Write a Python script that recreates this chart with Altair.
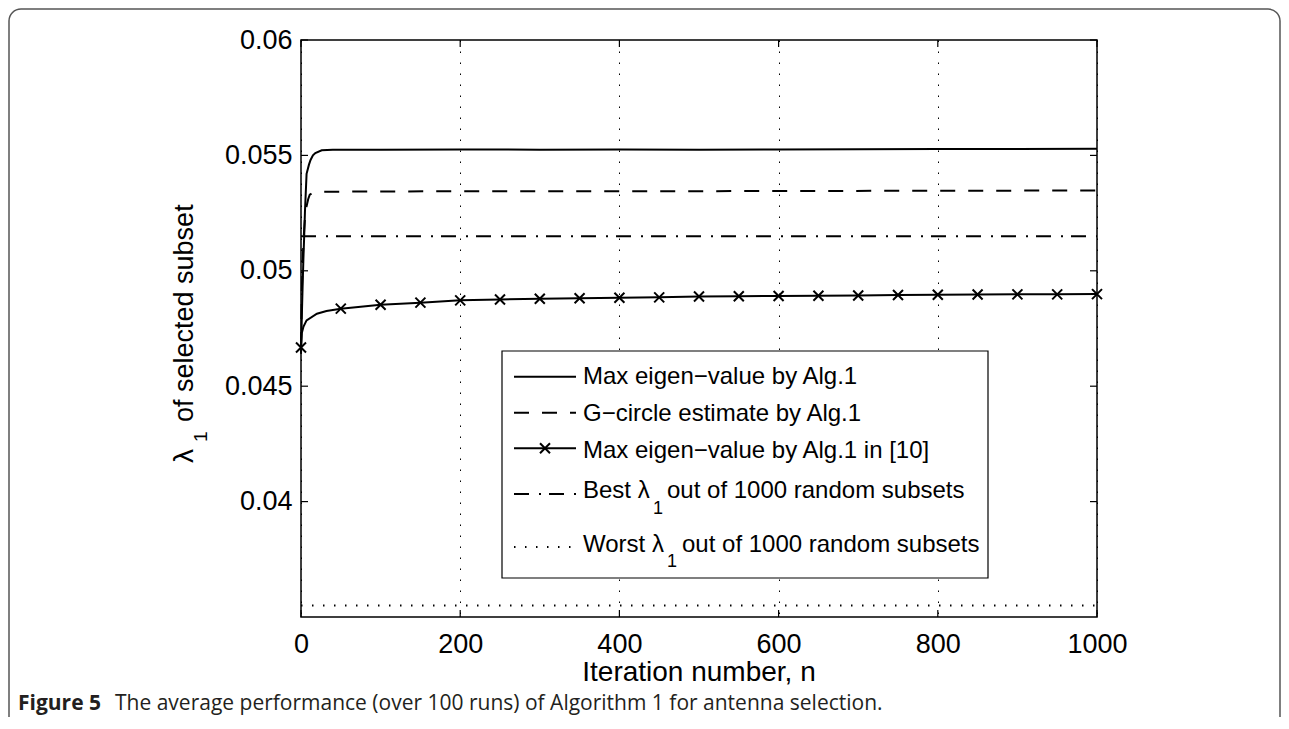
import altair as alt
import pandas as pd

# ---------------- data ----------------
# Max eigen-value by Alg.1 (solid)
n_max = [0, 1, 2, 3, 4, 5, 7, 10, 12, 15, 18, 26, 40, 100, 200, 300, 400, 500, 600, 700, 800, 900, 1000]
v_max = [0.0464, 0.0480, 0.0493, 0.0505, 0.0515, 0.0526, 0.0542, 0.0546, 0.0548, 0.0550, 0.0551, 0.05522,
         0.05524, 0.05525, 0.05526, 0.05525, 0.05526, 0.05524, 0.05526, 0.05527, 0.05528, 0.05528, 0.05529]

# G-circle estimate by Alg.1 (dashed)
n_gc = [0, 1, 2, 3, 4, 5, 7, 9, 11, 15, 23, 100, 500, 1000]
v_gc = [0.0467, 0.0490, 0.0503, 0.0512, 0.0518, 0.0523, 0.0528, 0.0531, 0.0533, 0.05338, 0.05342,
        0.05344, 0.05345, 0.05348]

# Max eigen-value by Alg.1 in [10] (solid with x markers)
n_ref = [0, 1, 3, 7, 20, 32, 50, 100, 150, 200, 250, 300, 350, 400, 450, 500, 550, 600, 650, 700,
         750, 800, 850, 900, 950, 1000]
v_ref = [0.04668, 0.0473, 0.04757, 0.04785, 0.04814, 0.04826, 0.04836, 0.04853, 0.04862, 0.04872,
         0.04876, 0.04879, 0.04881, 0.04883, 0.04885, 0.04889, 0.04890, 0.04891, 0.04892, 0.04893,
         0.04895, 0.04896, 0.04897, 0.04898, 0.04898, 0.04899]
marker_every = 50

# Best / worst lambda_1 out of 1000 random subsets (constant)
n_const = [0, 1000]
best_val = 0.0515
worst_val = 0.0355

x_ticks = [0, 200, 400, 600, 800, 1000]
y_ticks = [0.04, 0.045, 0.05, 0.055, 0.06]

legend_labels = [
    "Max eigen\u2212value by Alg.1",
    "G\u2212circle estimate by Alg.1",
    "Max eigen\u2212value by Alg.1 in [10]",
    "Best \u03bb",
    "Worst \u03bb",
]
legend_tail = "out of 1000 random subsets"
x_title = "Iteration number, n"
y_title_main = "of selected subset"
caption_bold = "Figure 5"
caption_rest = "The average performance (over 100 runs) of Algorithm 1 for antenna selection."

# ---------------- layout ----------------
W, H = 796, 577
FONT = "Liberation Sans"

xs = alt.Scale(domain=[0, 1000], nice=False)
ys = alt.Scale(domain=[0.035, 0.06], nice=False)

df_max = pd.DataFrame({"n": n_max, "v": v_max})
df_gc = pd.DataFrame({"n": n_gc, "v": v_gc})
df_ref = pd.DataFrame({"n": n_ref, "v": v_ref})
df_mark = df_ref[df_ref["n"] % marker_every == 0]
df_best = pd.DataFrame({"n": n_const, "v": [best_val] * len(n_const)})
df_worst = pd.DataFrame({"n": n_const, "v": [worst_val] * len(n_const)})
df_xt = pd.DataFrame({"n": x_ticks})
df_yt = pd.DataFrame({"v": y_ticks})

X = alt.X("n:Q", scale=xs, title=None,
          axis=alt.Axis(values=x_ticks, ticks=False, domain=False, grid=True, format="d",
                        gridDash=[1.5, 9.5], gridColor="black", gridOpacity=1, gridWidth=1,
                        labelFont=FONT, labelFontSize=27, labelColor="black",
                        labelPadding=14, labelFlush=False))
Y = alt.Y("v:Q", scale=ys, title=None,
          axis=alt.Axis(values=y_ticks, ticks=False, domain=False, grid=False, format=".3~f",
                        labelFont=FONT, labelFontSize=27, labelColor="black",
                        labelPadding=9))

base_max = alt.Chart(df_max).mark_line(color="black", strokeWidth=2).encode(x=X, y=Y)
Xn = alt.X("n:Q", scale=xs)
Yn = alt.Y("v:Q", scale=ys)
line_gc = alt.Chart(df_gc).mark_line(color="black", strokeWidth=2, strokeDash=[15, 13]).encode(x=Xn, y=Yn)
line_ref = alt.Chart(df_ref).mark_line(color="black", strokeWidth=2).encode(x=Xn, y=Yn)
XSHAPE = "M-1,-1L1,1M-1,1L1,-1"
pts_ref = alt.Chart(df_mark).mark_point(shape=XSHAPE, filled=False, color="black", strokeWidth=2,
                                        size=100, opacity=1).encode(x=Xn, y=Yn)
line_best = alt.Chart(df_best).mark_line(color="black", strokeWidth=2,
                                         strokeDash=[15, 10, 2, 8]).encode(x=Xn, y=Yn)
line_worst = alt.Chart(df_worst).mark_line(color="black", strokeWidth=2,
                                           strokeDash=[1.5, 9.5]).encode(x=Xn, y=Yn)

# inward ticks on all four sides
TL = 7
tick_b = alt.Chart(df_xt).mark_rule(color="black", strokeWidth=1.2).encode(
    x=Xn, y=alt.value(H), y2=alt.value(H - TL))
tick_t = alt.Chart(df_xt).mark_rule(color="black", strokeWidth=1.2).encode(
    x=Xn, y=alt.value(0), y2=alt.value(TL))
tick_l = alt.Chart(df_yt).mark_rule(color="black", strokeWidth=1.2).encode(
    y=alt.Y("v:Q", scale=ys), x=alt.value(0), x2=alt.value(TL))
tick_r = alt.Chart(df_yt).mark_rule(color="black", strokeWidth=1.2).encode(
    y=alt.Y("v:Q", scale=ys), x=alt.value(W), x2=alt.value(W - TL))


def txt(s, x, y, size, angle=0, align="left", weight="normal", font=FONT, color="black"):
    kw = dict(text=s, fontSize=size, font=font, align=align, baseline="alphabetic",
              fontWeight=weight, color=color)
    if angle:
        kw["angle"] = angle
    return alt.Chart(pd.DataFrame({"a": [0]})).mark_text(**kw).encode(
        x=alt.value(x), y=alt.value(y))


# axis titles
xtitle = txt(x_title, W / 2, 641, 28, align="center")
yt_lam = txt("\u03bb", -108, 423, 28, angle=270)
yt_sub = txt("1", -94, 402, 19, angle=270)
yt_main = txt(y_title_main, -108, 382, 27, angle=270)

# legend
leg_box = alt.Chart(pd.DataFrame({"a": [0]})).mark_rect(
    fill="white", stroke="black", strokeWidth=1.2).encode(
    x=alt.value(201), x2=alt.value(687), y=alt.value(311), y2=alt.value(538))
row_y = [336.7, 372.7, 408.3, 454, 507]
row_base = [344, 380.7, 418, 458, 512]
dashes = [None, [15, 13], None, [15, 10, 2, 8], [1.5, 9.5]]
leg_layers = [leg_box]
for i in range(5):
    kw = dict(color="black", strokeWidth=2)
    if dashes[i]:
        kw["strokeDash"] = dashes[i]
    leg_layers.append(alt.Chart(pd.DataFrame({"a": [0]})).mark_rule(**kw).encode(
        x=alt.value(213), x2=alt.value(275), y=alt.value(row_y[i])))
    leg_layers.append(txt(legend_labels[i], 282, row_base[i], 24))
leg_layers.append(alt.Chart(pd.DataFrame({"a": [0]})).mark_point(
    shape=XSHAPE, filled=False, color="black", strokeWidth=2, size=100, opacity=1).encode(
    x=alt.value(244), y=alt.value(row_y[2])))
leg_layers.append(txt("1", 352, 474, 18))
leg_layers.append(txt(legend_tail, 366, row_base[3], 24))
leg_layers.append(txt("1", 366, 527, 18))
leg_layers.append(txt(legend_tail, 381, row_base[4], 24))

# outer figure frame and caption
frame = alt.Chart(pd.DataFrame({"a": [0]})).mark_rect(
    fill="white", fillOpacity=0, stroke="#555555", strokeWidth=1.5, cornerRadius=12).encode(
    x=alt.value(-292), x2=alt.value(979), y=alt.value(-31), y2=alt.value(720))
cap1 = txt(caption_bold, -283, 670, 21, weight="bold", font="Open Sans", color="#231f20")
cap2 = txt(caption_rest, -186, 670, 21, font="Open Sans", color="#231f20")

chart = alt.layer(
    base_max, line_gc, line_ref, pts_ref, line_best, line_worst,
    tick_b, tick_t, tick_l, tick_r,
    xtitle, yt_lam, yt_sub, yt_main,
    *leg_layers, frame, cap1, cap2,
).properties(
    width=W, height=H,
    autosize=alt.AutoSizeParams(type="none"),
    padding={"left": 293, "top": 32, "right": 184, "bottom": 100},
).configure_view(stroke="black", strokeWidth=1.5)

chart.save("out.html", embed_options={"renderer": "svg", "actions": False})
